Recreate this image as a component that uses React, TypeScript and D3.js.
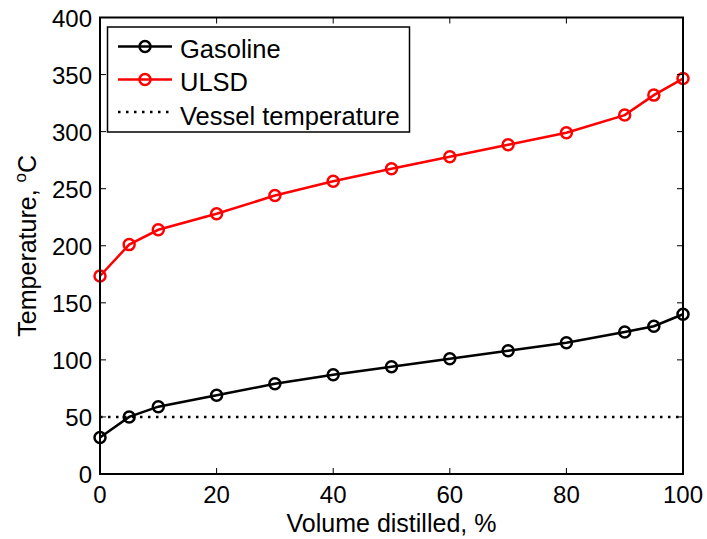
import React from "react";
import * as d3 from "d3";

const volume = [0, 5, 10, 20, 30, 40, 50, 60, 70, 80, 90, 95, 100];
const gasoline = [32, 50, 59, 69, 79, 87, 94, 101, 108, 115, 124.5, 129.5, 140];
const ulsd = [173.5, 201, 214, 228, 244, 256.5, 267.5, 278, 288.5, 299, 314.5, 332, 346.5];
const vesselTemp = 50;
const xTicks = [0, 20, 40, 60, 80, 100];
const yTicks = [0, 50, 100, 150, 200, 250, 300, 350, 400];

const W = 707, H = 539;
const L = 100, R = 683, T = 17.5, B = 474;
const font = "'Liberation Sans', Arial, sans-serif";
const dots = "2.5,5.5";

export default function App() {
  const x = d3.scaleLinear().domain([0, 100]).range([L, R]);
  const y = d3.scaleLinear().domain([0, 400]).range([B, T]);
  const line = d3.line<number>().x((_, i) => x(volume[i])).y((d) => y(d));
  const series = [
    { name: "Gasoline", data: gasoline, color: "#000000" },
    { name: "ULSD", data: ulsd, color: "#ff0000" },
  ];
  const tl = 6;
  return (
    <svg width={W} height={H} style={{ position: "absolute", left: 0, top: 0, background: "#fff" }} fontFamily={font}>
      <rect x={0} y={0} width={W} height={H} fill="#fff" />
      <line x1={x(0)} x2={x(100)} y1={y(vesselTemp)} y2={y(vesselTemp)} stroke="#000" strokeWidth={2.5} strokeDasharray={dots} />
      {series.map((s) => (
        <g key={s.name}>
          <path d={line(s.data) || ""} fill="none" stroke={s.color} strokeWidth={2.5} />
          {s.data.map((d, i) => (
            <circle key={i} cx={x(volume[i])} cy={y(d)} r={5.5} fill="none" stroke={s.color} strokeWidth={2.5} />
          ))}
        </g>
      ))}
      <rect x={L} y={T} width={R - L} height={B - T} fill="none" stroke="#000" strokeWidth={2} />
      {xTicks.map((t) => (
        <g key={"x" + t}>
          <line x1={x(t)} x2={x(t)} y1={B} y2={B - tl} stroke="#000" strokeWidth={1} />
          <line x1={x(t)} x2={x(t)} y1={T} y2={T + tl} stroke="#000" strokeWidth={1} />
          <text x={x(t)} y={B + 29} textAnchor="middle" fontSize={24} fill="#000">{t}</text>
        </g>
      ))}
      {yTicks.map((t) => (
        <g key={"y" + t}>
          <line x1={L} x2={L + tl} y1={y(t)} y2={y(t)} stroke="#000" strokeWidth={1} />
          <line x1={R} x2={R - tl} y1={y(t)} y2={y(t)} stroke="#000" strokeWidth={1} />
          <text x={L - 8} y={y(t) + 9} textAnchor="end" fontSize={24} fill="#000">{t}</text>
        </g>
      ))}
      <text x={(L + R) / 2} y={532} textAnchor="middle" fontSize={25} fill="#000">Volume distilled, %</text>
      <text transform={`translate(36, ${(T + B) / 2}) rotate(-90)`} textAnchor="middle" fontSize={25} fill="#000">
        Temperature, <tspan dy={-10} fontSize={17}>o</tspan><tspan dy={10}>C</tspan>
      </text>
      <rect x={107.5} y={27} width={302} height={105} fill="#fff" stroke="#000" strokeWidth={1.5} />
      {series.map((s, i) => {
        const ly = 46.5 + i * 33;
        return (
          <g key={"lg" + s.name}>
            <line x1={118} x2={172} y1={ly} y2={ly} stroke={s.color} strokeWidth={2.5} />
            <circle cx={145} cy={ly} r={5.5} fill="none" stroke={s.color} strokeWidth={2.5} />
            <text x={180} y={ly + 11} fontSize={25.5} fill="#000">{s.name}</text>
          </g>
        );
      })}
      <line x1={118} x2={172} y1={112} y2={112} stroke="#000" strokeWidth={2.5} strokeDasharray={dots} />
      <text x={180} y={124.5} fontSize={25.5} fill="#000">Vessel temperature</text>
    </svg>
  );
}
